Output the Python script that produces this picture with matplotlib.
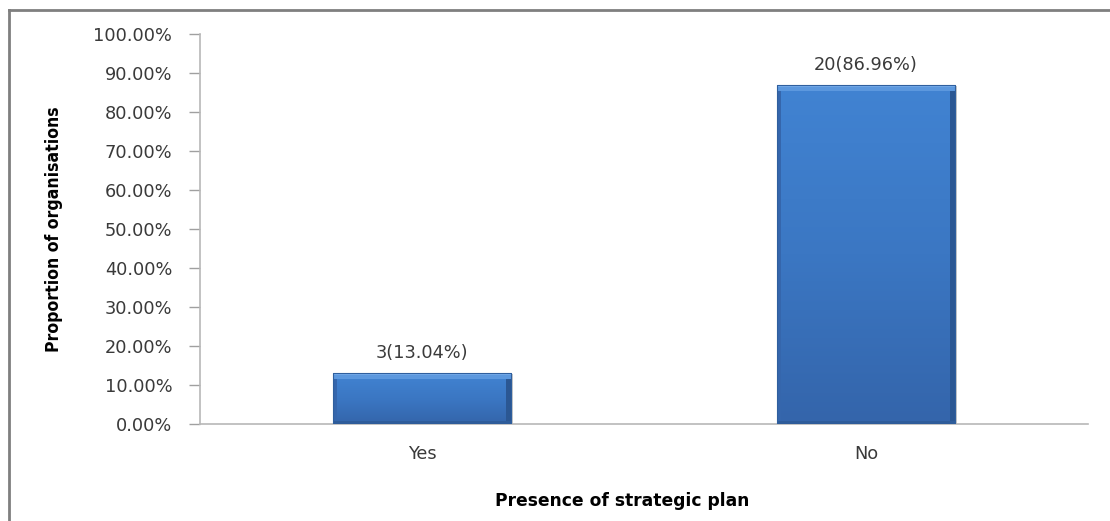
import matplotlib
matplotlib.use("Agg")
import matplotlib.pyplot as plt
import numpy as np
from matplotlib.lines import Line2D
from matplotlib.ticker import FuncFormatter
from matplotlib.colors import LinearSegmentedColormap

categories = ["Yes", "No"]
values = [13.04, 86.96]
labels = ["3(13.04%)", "20(86.96%)"]
yticks = [0, 10, 20, 30, 40, 50, 60, 70, 80, 90, 100]

W, H = 1110, 521
fig = plt.figure(figsize=(W / 100, H / 100), dpi=100)
ax = fig.add_axes([200 / W, 1 - 424 / H, 888 / W, 390 / H])
ax.set_xlim(-0.5, 1.5)
ax.set_ylim(0, 100)

x = np.arange(len(categories))
bars = ax.bar(x, values, width=0.402, color="#3D7BC9", edgecolor="none", zorder=2)

px_x = 2.0 / 888
px_y = 100.0 / 390

cmap = LinearSegmentedColormap.from_list("b", ["#3465AB", "#3B77C3", "#4183D2"])
for b in bars:
    bx, by = b.get_x(), b.get_y()
    bw, bh = b.get_width(), b.get_height()
    grad = np.linspace(1, 0, 64).reshape(-1, 1)
    im = ax.imshow(grad, extent=[bx, bx + bw, by, by + bh], aspect="auto", cmap=cmap,
                   vmin=0, vmax=1, zorder=3, interpolation="bilinear")
    im.set_clip_path(b)
    ax.fill_between([bx, bx + 4 * px_x], by, by + bh, color="#3566AC", zorder=4, lw=0)
    ax.fill_between([bx + bw - 5 * px_x, bx + bw], by, by + bh, color="#2B5793", zorder=4, lw=0)
    ax.fill_between([bx, bx + bw], by, by + 3 * px_y, color="#2E5C9A", zorder=4, lw=0)
    ax.fill_between([bx, bx + bw], by + bh - 6 * px_y, by + bh, color="#5C98DE", zorder=5, lw=0)
    ax.fill_between([bx, bx + bw], by + bh - 2 * px_y, by + bh, color="#74ABEA", zorder=5, lw=0)
    ax.plot([bx, bx, bx + bw, bx + bw], [by, by + bh, by + bh, by], color="#2F5F9E", lw=0.8, zorder=6)
    ax.fill_between([bx + bw, bx + bw + 2 * px_x], by, by + bh - 1 * px_y, color="#C8C8C8", zorder=1, lw=0)

ax.set_yticks(yticks)
ax.yaxis.set_major_formatter(FuncFormatter(lambda v, p: f"{v:.2f}%"))
ax.set_xticks(x)
ax.set_xticklabels(categories)

fam = ["DejaVu Sans"]
for t in ax.get_yticklabels() + ax.get_xticklabels():
    t.set_fontfamily(fam)
    t.set_fontsize(12.8)
    t.set_color("#3A3A3A")

ax.tick_params(axis="y", direction="out", length=8, width=1, color="#A0A0A0", pad=12)
ax.tick_params(axis="x", length=0, pad=15)

for s in ["top", "right"]:
    ax.spines[s].set_visible(False)
for s in ["left", "bottom"]:
    ax.spines[s].set_color("#B8B8B8")
    ax.spines[s].set_linewidth(1.2)

for xi, v, lab in zip(x, values, labels):
    ax.annotate(lab, (xi, v), xytext=(0, 8), textcoords="offset points", ha="center",
                va="bottom", fontsize=12.8, color="#3A3A3A", family=fam)

ax.set_ylabel("Proportion of organisations", fontsize=12.6, fontweight="bold",
              fontstretch="condensed", family=["DejaVu Sans"], color="black")
ax.yaxis.set_label_coords((63 - 200) / 888, 0.5)
ax.set_xlabel("Presence of strategic plan", fontsize=12.3, fontweight="bold",
              family=["DejaVu Sans"], color="black")
ax.xaxis.set_label_coords((622 - 200) / 888, -(492 - 424) / 390)

fig.add_artist(Line2D([9 / W, 9 / W], [0, 1 - 10 / H], transform=fig.transFigure, color="#7F7F7F", lw=2))
fig.add_artist(Line2D([9 / W, 1], [1 - 10 / H, 1 - 10 / H], transform=fig.transFigure, color="#7F7F7F", lw=2))

fig.savefig("out.png", dpi=100)
